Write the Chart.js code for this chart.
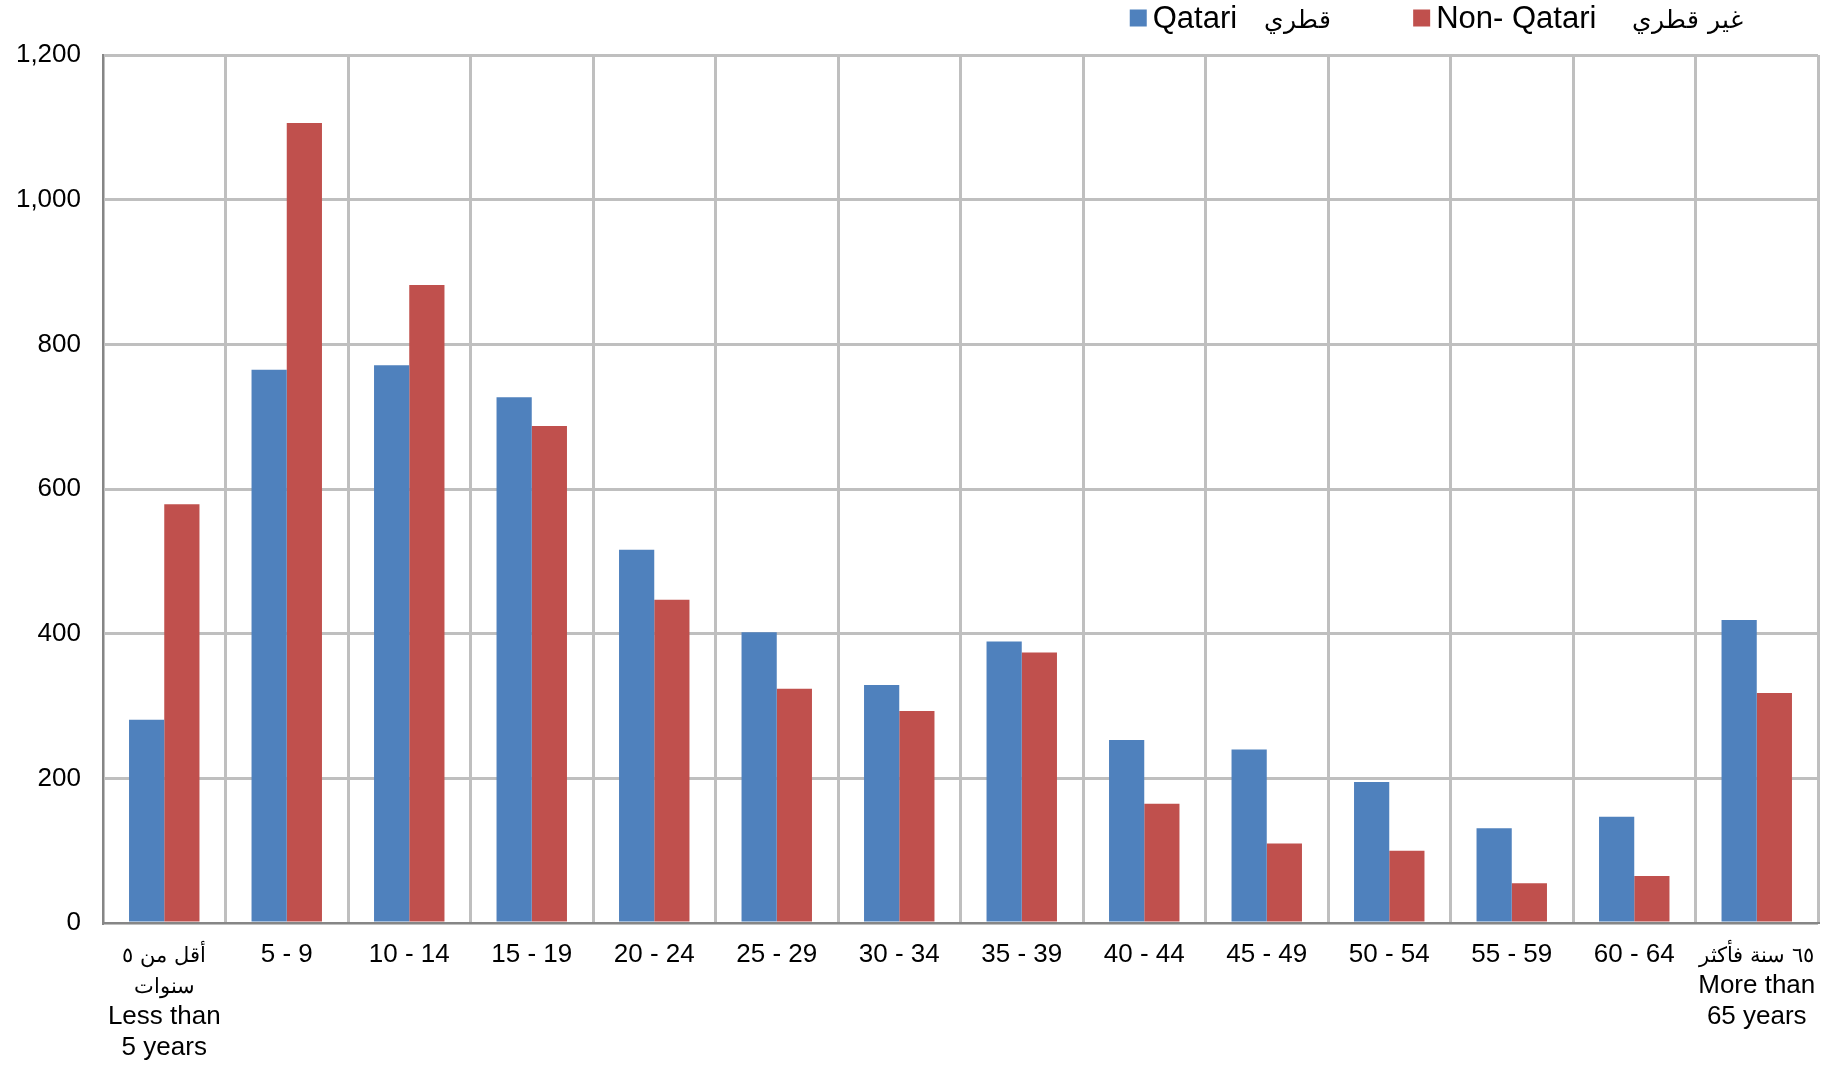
<!DOCTYPE html>
<html>
<head>
<meta charset="utf-8">
<title>Qatari / Non-Qatari by age group</title>
<script src="https://cdn.jsdelivr.net/npm/chart.js@4/dist/chart.umd.min.js"></script>
<style>
  /* Arabic glyphs come from DejaVu Sans, scaled down to sit closer to Arial's Arabic */
  @font-face {
    font-family: 'ArabicSmall';
    src: local('DejaVu Sans');
    size-adjust: 82%;
    unicode-range: U+0600-06FF, U+0660-0669, U+FB50-FDFF, U+FE70-FEFF;
  }
  html, body { margin: 0; padding: 0; background: #fff; }
  #wrap { width: 1831px; height: 1065px; }
</style>
</head>
<body>
<div id="wrap"><canvas id="chart" width="1831" height="1065"></canvas></div>
<script>
// age groups (x axis), multi-line labels: Arabic line(s) first, then English
const ageGroups = [
  ['أقل من ٥', 'سنوات', 'Less than', '5 years'],
  '5 - 9', '10 - 14', '15 - 19', '20 - 24', '25 - 29', '30 - 34',
  '35 - 39', '40 - 44', '45 - 49', '50 - 54', '55 - 59', '60 - 64',
  ['٦٥ سنة فأكثر', 'More than', '65 years']
];

const qatari    = [281, 765, 771, 727, 516, 402, 329, 389, 253, 240, 195, 131, 147, 419];
const nonQatari = [579, 1106, 882, 687, 447, 324, 293, 374, 165, 110, 100, 55, 65, 318];

const seriesEn = ['Qatari', 'Non- Qatari'];
const seriesAr = ['قطري', 'غير قطري'];

const yTicks = { min: 0, max: 1200, step: 200 };

const COLORS = {
  qatari: '#4F81BD',
  nonQatari: '#C0504D',
  grid: '#BFBFBF',
  axis: '#868686',
  text: '#000000',
};

const FONT_FAMILY = 'ArabicSmall, "Liberation Sans", Arial, "DejaVu Sans", sans-serif';

/**
 * Legend drawn on canvas: small square, English name, Arabic name
 */
const bilingualLegend = {
  id: 'bilingualLegend',
  afterDraw(chart) {
    const ctx = chart.ctx;
    const area = chart.chartArea;
    const box = 17;
    const boxGap = 6;
    const langGaps = [27, 36];
    const itemGap = 82;
    ctx.save();
    ctx.font = '31px ' + FONT_FAMILY;
    ctx.textBaseline = 'middle';
    ctx.textAlign = 'left';

    const items = chart.data.datasets.map((ds, i) => {
      const wEn = ctx.measureText(seriesEn[i]).width;
      const wAr = ctx.measureText(seriesAr[i]).width;
      return { color: ds.backgroundColor, wEn, wAr, w: box + boxGap + wEn + langGaps[i] + wAr };
    });
    const total = items.reduce((s, it) => s + it.w, 0) + itemGap * (items.length - 1);
    let x = area.right - 75 - total;
    const cy = 18;

    items.forEach((it, i) => {
      ctx.fillStyle = it.color;
      ctx.fillRect(x, cy - box / 2, box, box);
      x += box + boxGap;
      ctx.fillStyle = COLORS.text;
      ctx.fillText(seriesEn[i], x, cy + 1);
      x += it.wEn + langGaps[i];
      ctx.fillText(seriesAr[i], x, cy + 1);
      x += it.wAr + itemGap;
    });
    ctx.restore();
  }
};

function drawChart() {
  const canvas = document.getElementById('chart');

  new Chart(canvas, {
    type: 'bar',
    data: {
      labels: ageGroups,
      datasets: [
        {
          label: seriesEn[0],
          data: qatari,
          backgroundColor: COLORS.qatari,
          borderWidth: 0,
          barPercentage: 1,
          categoryPercentage: 0.575,
        },
        {
          label: seriesEn[1],
          data: nonQatari,
          backgroundColor: COLORS.nonQatari,
          borderWidth: 0,
          barPercentage: 1,
          categoryPercentage: 0.575,
        }
      ]
    },
    options: {
      responsive: false,
      animation: false,
      devicePixelRatio: 1,
      layout: {
        padding: { top: 55, right: 13, bottom: 0, left: 13 }
      },
      plugins: {
        legend: { display: false },
        tooltip: { enabled: false },
      },
      scales: {
        x: {
          offset: true,
          grid: {
            offset: true,
            color: COLORS.grid,
            lineWidth: 3,
            drawTicks: false,
          },
          border: { color: COLORS.axis, width: 2 },
          ticks: {
            color: COLORS.text,
            padding: 16,
            maxRotation: 0,
            autoSkip: false,
            font: { family: FONT_FAMILY, size: 26, lineHeight: 1.2 },
          },
          afterFit(scale) {
            // fixed label band under the plot, no overhang padding
            scale.height = 142;
            scale.paddingLeft = 0;
            scale.paddingRight = 0;
          }
        },
        y: {
          min: yTicks.min,
          max: yTicks.max,
          grid: {
            color: COLORS.grid,
            lineWidth: 3,
            drawTicks: false,
          },
          border: { color: COLORS.axis, width: 2 },
          ticks: {
            stepSize: yTicks.step,
            color: COLORS.text,
            padding: 22,
            font: { family: FONT_FAMILY, size: 26 },
          },
          afterFit(scale) {
            scale.width = 90;
          }
        }
      }
    },
    plugins: [bilingualLegend]
  });
}

if (document.fonts && document.fonts.load) {
  document.fonts.load('26px ArabicSmall', 'قطري').then(drawChart, drawChart);
} else {
  drawChart();
}
</script>
</body>
</html>
